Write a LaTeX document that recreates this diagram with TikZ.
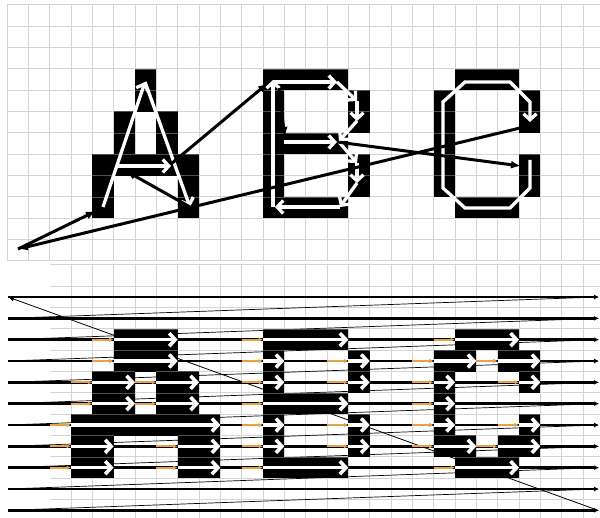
\documentclass[tikz,border=0pt]{standalone}
\usetikzlibrary{arrows.meta}
\definecolor{gridc}{RGB}{212,212,212}
\definecolor{gridov}{RGB}{80,80,80}
\definecolor{orangec}{RGB}{232,162,70}
\newcommand{\tb}[4]{%
  \fill ({7+21.3333*#1},{5+21.3333*#3}) rectangle ({7+21.3333*(#2+1)},{5+21.3333*(#4+1)});
  \foreach \r in {#3,...,#4} \draw[gridover] ({7+21.3333*#1},{5+21.3333*\r}) -- ({7+21.3333*(#2+1)},{5+21.3333*\r});
}
\newcommand{\br}[3]{%
  \fill ({7+21.3333*#1},{265+21.3333*#3}) rectangle ({7+21.3333*(#2+1)},{265+21.3333*(#3+1)});
  \draw[gridover] ({7+21.3333*#1},{265+21.3333*#3}) -- ({7+21.3333*(#2+1)},{265+21.3333*#3});
  \draw[rasterarrow] ({7+21.3333*#1},{265+21.3333*(#3+0.5)}) -- ({7+21.3333*(#2+1)},{265+21.3333*(#3+0.5)});
  \draw[skiparrow] ({7+21.3333*(#1-1)},{265+21.3333*(#3+0.5)}) -- ({7+21.3333*#1},{265+21.3333*(#3+0.5)});
}
\begin{document}
\begin{tikzpicture}[x=1pt,y=-1pt,
  gridline/.style={draw=gridc,line width=1pt},
  gridover/.style={draw=gridov,line width=0.8pt},
  vstroke/.style={draw=white,line width=3.3pt,line join=miter,-{Straight Barb[length=6pt,width=13pt]}},
  penmove/.style={draw=black,line width=3pt,-{Latex[length=10pt,width=8pt]}},
  scanline/.style={draw=black,line width=2.6pt,-{Latex[length=5pt,width=5pt]}},
  retrace/.style={draw=black,line width=0.7pt},
  diagret/.style={draw=black,line width=0.8pt,-{Latex[length=6pt,width=5pt]}},
  rasterarrow/.style={draw=white,line width=3.6pt,-{Straight Barb[length=6pt,width=13pt]}},
  skiparrow/.style={draw=orangec,line width=1.9pt,-{Latex[length=4.5pt,width=4.5pt]}},
]
\useasboundingbox (0,0) rectangle (600,518);
\fill[white] (0,0) rectangle (600,518);

% ---------- top panel: vector display ----------
\foreach \i in {0,...,27} \draw[gridline] ({7+21.3333*\i},5) -- ({7+21.3333*\i},261);
\foreach \j in {0,...,12} \draw[gridline] (7,{5+21.3333*\j}) -- (600,{5+21.3333*\j});
% letter A
\tb{6}{6}{3}{4} \tb{5}{5}{5}{6} \tb{7}{7}{5}{6} \tb{4}{8}{7}{7} \tb{4}{4}{8}{9} \tb{8}{8}{8}{9}
% letter B
\tb{12}{12}{3}{9} \tb{13}{15}{3}{3} \tb{13}{15}{6}{6} \tb{13}{15}{9}{9} \tb{16}{16}{4}{5} \tb{16}{16}{7}{8}
% letter C
\tb{21}{23}{3}{3} \tb{20}{20}{4}{8} \tb{24}{24}{4}{5} \tb{24}{24}{7}{8} \tb{21}{23}{9}{9}

% white strokes of A
\draw[vstroke] (103,207) -- (145,82);
\draw[vstroke] (145,82) -- (190,207);
\draw[vstroke] (118,166) -- (171,166);
% white strokes of B
\draw[vstroke] (273,82) -- (337,82);
\draw[vstroke] (337,82) -- (357,101);
\draw[vstroke] (357,101) -- (357,121);
\draw[vstroke] (357,121) -- (339,141);
\draw[vstroke] (339,142) -- (357,163);
\draw[vstroke] (357,163) -- (357,183);
\draw[vstroke] (357,183) -- (340,207);
\draw[vstroke] (340,207) -- (275,207);
\draw[vstroke] (273,207) -- (273,80);
\draw[vstroke] (284,142) -- (337,142);
% white stroke of C
\draw[vstroke] (530,160) -- (530,188) -- (510,208) -- (465,208) -- (443,188) -- (443,102)
  -- (465,82) -- (510,82) -- (530,102) -- (530,122);

% black pen moves
\coordinate (org) at (18,249);
\draw[penmove] (org) -- (96,211);
\draw[penmove] (190,207) -- (126,171);
\draw[penmove] (171,164) -- (268,83);
\draw[penmove,line width=2.5pt] (279,88) -- (285,137);
\draw[penmove] (337,142) -- (521,166);
\draw[penmove] (520,128) -- (org);

% ---------- bottom panel: raster scan ----------
\foreach \i in {3,...,27} \draw[gridline] ({7+21.3333*\i},265) -- ({7+21.3333*\i},518);
\foreach \j in {0,...,11} \draw[gridline] (50,{265+21.3333*\j}) -- (600,{265+21.3333*\j});
\foreach \k in {0,...,10} \draw[scanline] (8,{265+21.3333*(\k+1.5)}) -- (599,{265+21.3333*(\k+1.5)});
\foreach \k in {0,...,9} \draw[retrace] (598,{265+21.3333*(\k+1.5)}) -- (8,{265+21.3333*(\k+2.5)});
\draw[diagret] (598,{265+21.3333*11.5}) -- (8,{265+21.3333*1.5});

% A
\br{5}{7}{3} \br{5}{7}{4}
\br{4}{5}{5} \br{7}{8}{5} \br{4}{5}{6} \br{7}{8}{6}
\br{3}{9}{7}
\br{3}{4}{8} \br{8}{9}{8} \br{3}{4}{9} \br{8}{9}{9}
% B
\br{12}{15}{3}
\br{12}{12}{4} \br{16}{16}{4} \br{12}{12}{5} \br{16}{16}{5}
\br{12}{15}{6}
\br{12}{12}{7} \br{16}{16}{7} \br{12}{12}{8} \br{16}{16}{8}
\br{12}{15}{9}
% C
\br{21}{23}{3}
\br{20}{21}{4} \br{23}{24}{4}
\br{20}{20}{5} \br{24}{24}{5}
\br{20}{20}{6}
\br{20}{20}{7} \br{24}{24}{7}
\br{20}{21}{8} \br{23}{24}{8}
\br{21}{23}{9}
\end{tikzpicture}
\end{document}
